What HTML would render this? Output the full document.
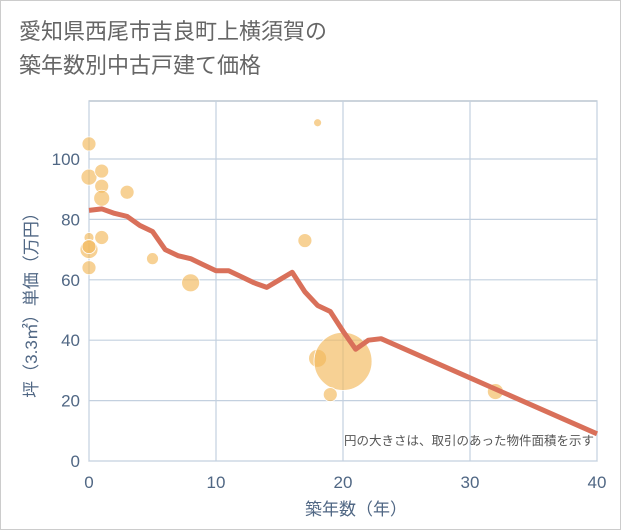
<!DOCTYPE html>
<html><head><meta charset="utf-8"><style>
body{margin:0;background:#fff;}
#wrap{width:619px;height:528px;border:1px solid #ccc;position:relative;font-family:"Liberation Sans","Noto Sans CJK JP",sans-serif;}
#title{position:absolute;left:18px;top:14px;font-size:22px;line-height:34px;color:#666;}
</style></head><body>
<div id="wrap">
<div id="title">愛知県西尾市吉良町上横須賀の<br>築年数別中古戸建て価格</div>
<svg id="chart" width="621" height="530" style="position:absolute;left:0;top:0"></svg>
</div>
<script>
const xTicks=[0,10,20,30,40];
const yTicks=[0,20,40,60,80,100];
const lineX=[0,1,2,3,4,5,6,7,8,9,10,11,12,13,14,15,16,17,18,19,20,21,22,23,40];
const lineY=[83,83.5,82,81,78,76,70,68,67,65,63,63,61,59,57.5,60,62.5,56,51.5,49.5,43,37,40,40.5,9];
const bubX=[0,0,1,1,1,3,0,0,0,1,0,5,8,18,17,18,20,19,32];
const bubY=[105,94,96,91,87,89,74,70,71,74,64,67,59,112,73,34,33,22,23];
const bubR=[7,8,7,7,8,7,5,9,7,7,7,6,9,4,7,9,29,7,8];
const NS="http://www.w3.org/2000/svg";
const svg=document.getElementById('chart');
const X0=88,X1=596,Y0=460,Y1=100;
const xs=v=>X0+(v/40)*(X1-X0);
const ys=v=>Y0-v*3.02;
function mk(t,a){const e=document.createElementNS(NS,t);for(const k in a)e.setAttribute(k,a[k]);svg.appendChild(e);return e;}
let r=mk('rect',{x:X0,y:Y1,width:X1-X0,height:Y0-Y1,fill:'#fff',stroke:'#9aa8b8'});


xTicks.forEach(t=>{
 let l=mk('line',{x1:xs(t),x2:xs(t),y1:Y1,y2:Y0,stroke:'#c3d0df','stroke-width':1.2});
 
 
 let tx=mk('text',{x:xs(t),y:487,'text-anchor':'middle','font-size':17,fill:'#506784'});
 tx.textContent=t;
 
 
});
yTicks.forEach(t=>{
 let l=mk('line',{x1:X0,x2:X1,y1:ys(t),y2:ys(t),stroke:'#c3d0df','stroke-width':1.2});
 
 
 let tx=mk('text',{x:79,y:ys(t)+6,'text-anchor':'end','font-size':17,fill:'#506784'});
 tx.textContent=t;
 
 
});
bubX.forEach((v,i)=>{
 let c=mk('circle',{cx:xs(v),cy:ys(bubY[i]),r:bubR[i],fill:'#f2b95a','fill-opacity':0.65,stroke:'#fff','stroke-width':0.8});
 
 
});
let p=mk('polyline',{points:lineX.map((v,i)=>xs(v)+','+ys(lineY[i])).join(' '),fill:'none',stroke:'#d9705a','stroke-width':5,'stroke-linejoin':'round'});


let n=mk('text',{x:593,y:444,'text-anchor':'end','font-size':12.5,fill:'#555'});
n.textContent='円の大きさは、取引のあった物件面積を示す';


let xt=mk('text',{x:355,y:514,'text-anchor':'middle','font-size':17,fill:'#506784'});
xt.textContent='築年数（年）';


let yt=mk('text',{x:0,y:0,'text-anchor':'middle','font-size':17,fill:'#506784',transform:'translate(36,300) rotate(-90)'});
yt.textContent='坪（3.3㎡）単価（万円）';


</script>
</body></html>
